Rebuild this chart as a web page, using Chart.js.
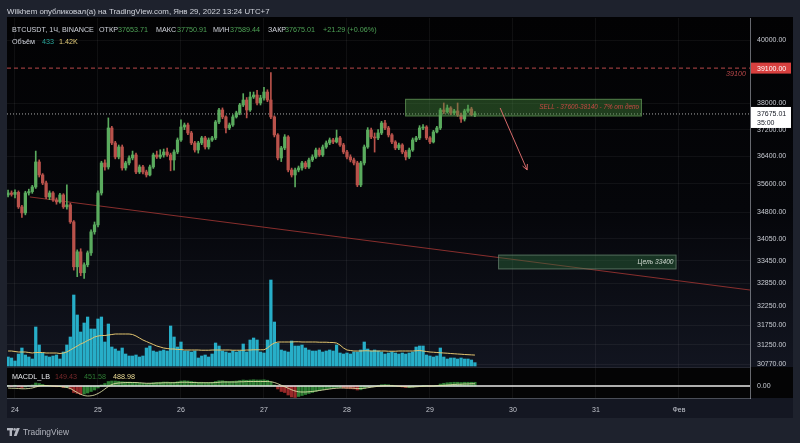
<!DOCTYPE html>
<html>
<head>
<meta charset="utf-8">
<script src="https://cdn.jsdelivr.net/npm/chart.js@4/dist/chart.umd.min.js"></script>
<style>
  html, body { margin: 0; padding: 0; background: #1e222d; }
  canvas { display: block; }
</style>
</head>
<body>
<canvas id="c" width="800" height="443"></canvas>
<script>
// BTCUSDT 1h candles, index 0 = Jan 23 22:00 (UTC+7)
const opens = [
  35284,35341,35300,35360,34945,34775,35341,35380,35513,36239,
  35860,35628,35227,35341,35143,35086,35284,34945,35001,34523,
  33290,33696,33130,33344,33668,34245,34440,35341,36210,36093,
  37250,36801,36386,36682,36064,36210,36357,36445,35947,36093,
  35947,35860,36093,36445,36386,36445,36533,36445,36298,36533,
  36890,37280,37341,37100,36801,36592,36801,36951,36682,36890,
  36951,37432,37797,37585,37250,37341,37585,37706,37950,38103,
  37797,38196,38258,38011,38165,38350,38103,37585,37041,36357,
  36652,36980,36005,35860,36005,36064,36210,36093,36298,36386,
  36592,36445,36682,36801,36890,36831,36951,36741,36533,36386,
  36298,36210,35571,36210,36682,37189,36980,36951,37100,37400,
  37250,37041,36831,36652,36741,36533,36386,36592,36890,36951,
  37250,37280,36951,36831,37130,37250,37797,37736,37858,37706,
  37767,37645,37520,37767,37827,37653.71
];
const highs = [
  35420,35400,35430,35400,34990,35390,35450,35560,36560,36300,
  35900,35680,35400,35380,35200,35330,35320,35571,35050,34560,
  33750,33780,33400,33720,34300,34520,35400,36260,36300,37555,
  37300,36850,36740,36740,36260,36420,36560,36500,36150,36140,
  36000,36150,36500,36560,36600,36620,36650,36500,36600,36950,
  37500,37400,37400,37150,36850,36850,37000,37000,36950,37000,
  37480,37850,37860,37620,37400,37650,37760,38000,38300,38180,
  38350,38350,38400,38250,38500,38420,38960,37620,37080,36700,
  37050,37020,36060,36060,36120,36260,36260,36350,36450,36650,
  36650,36740,36860,36950,36940,37189,37000,36790,36580,36450,
  36350,36260,36260,36740,37260,37250,37100,37200,37450,37480,
  37300,37080,36870,36800,36780,36580,36650,36950,37000,37320,
  37350,37320,36990,37180,37300,37850,38011,37950,37900,37820,
  38011,37700,37820,37950,37880,37750.91
];
const lows = [
  35230,35250,35200,34900,34650,34720,35280,35330,35470,35800,
  35580,35180,35150,35100,35020,35050,34900,34880,34480,33200,
  33024,33050,32980,33290,33600,34180,34380,35280,36000,36030,
  36750,36330,36330,36000,36000,36150,36300,35900,35900,35890,
  35800,35830,36050,36340,36340,36380,36400,35980,36000,36480,
  36850,37200,37050,36750,36530,36500,36750,36620,36620,36850,
  36900,37380,37530,37100,37200,37300,37550,37650,37900,37555,
  37750,38150,37950,37950,38100,38050,37530,36980,36300,36250,
  36600,35950,35800,35513,35950,36000,36040,36050,36250,36340,
  36400,36400,36640,36750,36780,36800,36700,36480,36330,36240,
  36150,35520,35520,36150,36640,36930,36530,36900,37050,37200,
  36980,36780,36600,36600,36480,36298,36340,36550,36840,36900,
  37200,36900,36780,36800,37100,37200,37680,37700,37650,37650,
  37600,37420,37460,37720,37620,37589.44
];
const closes = [
  35341,35300,35360,34945,34775,35341,35380,35513,36239,35860,
  35628,35227,35341,35143,35086,35284,34945,35001,34523,33290,
  33696,33130,33344,33668,34245,34440,35341,36210,36093,37250,
  36801,36386,36682,36064,36210,36357,36445,35947,36093,35947,
  35860,36093,36445,36386,36445,36533,36445,36298,36533,36890,
  37280,37341,37100,36801,36592,36801,36951,36682,36890,36951,
  37432,37797,37585,37250,37341,37585,37706,37950,38103,37797,
  38196,38258,38011,38165,38350,38103,37585,37041,36357,36652,
  36980,36005,35860,36005,36064,36210,36093,36298,36386,36592,
  36445,36682,36801,36890,36831,36951,36741,36533,36386,36298,
  36210,35571,36210,36682,37189,36980,36951,37100,37400,37250,
  37041,36831,36652,36741,36533,36386,36592,36890,36951,37250,
  37280,36951,36831,37130,37250,37797,37736,37858,37706,37767,
  37645,37520,37767,37827,37653.72,37675.01
];
const volumes = [
  1170,1040,650,1560,2340,1430,1170,910,5070,2730,
  1690,1300,1170,1300,1430,910,1820,2730,3770,9230,
  6630,4420,5590,6370,4810,4810,6110,6370,3120,5460,
  2470,2210,1950,2340,1560,1300,1300,1430,1170,1300,
  2340,2600,1950,1820,1950,2080,1950,5200,3770,2470,
  3120,1950,1950,1820,1950,1040,1300,1430,1170,1560,
  2990,2600,1950,1820,1690,1950,1820,1950,2860,1820,
  3380,3640,3380,1820,1690,3380,11180,5720,2990,2080,
  1950,1820,3250,2600,2600,2730,2340,2080,1950,1950,
  2080,1820,1950,2080,1950,2730,1690,1560,1690,1560,
  1820,1820,2080,3120,2210,1950,2080,1950,1820,1560,
  1690,1820,1690,1560,1690,1560,1690,1820,2470,2600,
  2600,1430,1300,1170,1300,2340,1170,910,1040,1040,
  910,1040,910,910,780,433
];
const volumeMA = [
  1950,1950,1885,1820,1820,1820,1755,1690,1755,1755,
  1755,1690,1690,1690,1690,1625,1690,1820,2080,2340,
  2600,2860,3055,3315,3510,3770,3900,3965,3965,4030,
  4095,4160,4160,4160,4160,4160,4095,3900,3640,3380,
  3185,2990,2795,2600,2470,2340,2275,2210,2210,2145,
  2145,2080,2080,2080,2080,2080,2050,2050,2050,2080,
  2080,2080,2080,2080,2080,2050,2050,2050,2050,2080,
  2080,2110,2110,2110,2110,2340,2730,2990,3120,3120,
  3120,3120,3120,3150,3150,3120,3120,3120,3120,3120,
  3090,3090,3090,3060,3055,2990,2730,2340,2080,2015,
  1950,1950,1950,1980,1980,1950,1950,1950,1950,1950,
  1920,1920,1920,1950,1950,1950,1950,1950,1980,2015,
  1950,1885,1820,1790,1755,1720,1690,1660,1625,1590,
  1560,1530,1495,1470,1445,1420
];
const macdHist = [
  20,-20,30,-40,-80,-40,20,40,120,100,
  60,20,0,-20,-30,-20,-60,-60,-120,-260,
  -300,-340,-320,-280,-220,-160,-80,40,100,180,
  200,200,190,170,160,160,150,130,120,110,
  100,110,130,140,150,160,160,150,150,170,
  200,210,200,180,160,150,150,140,140,150,
  180,210,210,190,180,190,200,220,240,230,
  240,250,240,240,250,230,160,40,-120,-220,
  -260,-360,-440,-460,-420,-380,-340,-300,-260,-220,
  -180,-150,-120,-100,-80,-60,-60,-80,-100,-110,
  -120,-160,-150,-100,-40,-20,0,20,50,60,
  50,30,0,-20,-40,-60,-60,-40,-20,0,
  20,10,-10,0,20,80,110,130,140,150,
  150,140,150,150,150,149.43
];
const macdLine = [
  -80,-90,-90,-100,-110,-110,-100,-80,
  -40,0,20,20,10,0,-10,-20,-40,
  -60,-100,-180,-260,-330,-380,-400,-390,-360,-300,-220,-120,-20,60,
  100,120,130,140,140,140,140,130,120,110,
  110,110,120,120,130,130,130,130,140,150,
  150,150,140,140,130,130,130,130,130,140,
  150,160,160,160,160,160,170,170,180,180,
  180,180,180,180,180,
  170,140,90,30,-30,-90,-150,-200,-230,-240,-240,-230,-220,-200,-180,
  -160,-140,-120,-100,-90,-80,-80,-80,-80,-90,-100,-100,-90,-70,
  -50,-30,-10,0,10,10,10,0,-10,-20,-30,-40,-40,-30,-20,-10,
  0,0,0,10,20,30,40,50,60,70,70,80,80,90,90
];

// axis labels
const dayIdx = [2, 26, 50, 74, 98, 122, 146, 170, 194];
const dayLabels = ['24', '25', '26', '27', '28', '29', '30', '31', 'Фев'];
const priceTicks = [40000, 38000, 37200, 36400, 35600, 34800, 34050, 33450, 32850, 32250, 31750, 31250, 30770];

// drawings on the chart
const resistance = 39100;
const lastPrice = 37675.01;
const trendX = [6.3, 214.55];
const trendY = [35227, 32670];
const sellX = [114.8, 183.3];
const sellPrice = [37600, 38140];
const targetX = [141.7, 193.3];
const targetPrice = [33220, 33620];
const arrowX = [142.3, 150.1];
const arrowY = [37858, 36005];

const UP = '#5aab5e', DOWN = '#b9524b';
const FONT = '"Liberation Sans", Arial, sans-serif';
const xMin = -0.31, xMax = 214.55;

const isUp = closes.map((c, i) => c >= opens[i]);
const histColors = macdHist.map((v, i) => (v < 0 && i > 0 && v < macdHist[i - 1]) ? '#9a2a2a' : '#2f7f35');

function fitSize(c, s, w, style) {
  c.font = (style || '') + ' 10px ' + FONT;
  return 10 * w / c.measureText(s).width;
}
function put(c, s, x, y, color, size, style, align) {
  c.font = (style || '') + ' ' + size + 'px ' + FONT;
  c.fillStyle = color;
  c.textAlign = align || 'left';
  c.textBaseline = 'middle';
  c.fillText(s, x, y);
}

const backdrop = {
  id: 'backdrop',
  beforeDraw(chart) {
    const c = chart.ctx, a = chart.chartArea;
    c.save();
    c.fillStyle = '#1e222d';
    c.fillRect(0, 0, 800, 443);
    // main pane (incl. price scale column)
    const g = c.createLinearGradient(0, a.top, 0, 367);
    g.addColorStop(0, '#020203');
    g.addColorStop(0.55, '#05060a');
    g.addColorStop(1, '#121520');
    c.fillStyle = g;
    c.fillRect(7, 17, 786, 367 - 17);
    // indicator pane
    c.fillStyle = '#040405';
    c.fillRect(7, 367, 786, a.bottom - 367);
    // time scale strip
    c.fillStyle = '#141722';
    c.fillRect(7, a.bottom, 786, 20);
    c.restore();
  }
};

const overlay = {
  id: 'overlay',
  afterDatasetsDraw(chart) {
    const c = chart.ctx, x = chart.scales.x, y = chart.scales.y;
    c.save();
    // sell zone
    let x0 = x.getPixelForValue(sellX[0]), x1 = x.getPixelForValue(sellX[1]);
    let y0 = y.getPixelForValue(sellPrice[1]), y1 = y.getPixelForValue(sellPrice[0]);
    c.fillStyle = 'rgba(72,140,62,0.42)';
    c.fillRect(x0, y0, x1 - x0, y1 - y0);
    c.strokeStyle = 'rgba(120,175,105,0.55)';
    c.lineWidth = 1;
    c.strokeRect(x0 + 0.5, y0 + 0.5, x1 - x0 - 1, y1 - y0 - 1);
    c.font = 'italic ' + fitSize(c, 'SELL - 37600-38140 - 7% от депо', 100, 'italic').toFixed(2) + 'px ' + FONT;
    put(c, 'SELL - 37600-38140 - 7% от депо', x1 - 3, (y0 + y1) / 2, '#c84a44', fitSize(c, 'SELL - 37600-38140 - 7% от депо', 100, 'italic'), 'italic', 'right');
    // target zone
    x0 = x.getPixelForValue(targetX[0]); x1 = x.getPixelForValue(targetX[1]);
    y0 = y.getPixelForValue(targetPrice[1]); y1 = y.getPixelForValue(targetPrice[0]);
    c.fillStyle = 'rgba(45,105,60,0.45)';
    c.fillRect(x0, y0, x1 - x0, y1 - y0);
    c.strokeStyle = 'rgba(130,150,135,0.55)';
    c.strokeRect(x0 + 0.5, y0 + 0.5, x1 - x0 - 1, y1 - y0 - 1);
    put(c, 'Цель 33400', x1 - 3, (y0 + y1) / 2, '#d2dbd2', fitSize(c, 'Цель 33400', 36, 'italic'), 'italic', 'right');
    // arrow
    const ax0 = x.getPixelForValue(arrowX[0]), ay0 = y.getPixelForValue(arrowY[0]);
    const ax1 = x.getPixelForValue(arrowX[1]), ay1 = y.getPixelForValue(arrowY[1]);
    c.strokeStyle = '#d66a6a';
    c.lineWidth = 1;
    c.beginPath();
    c.moveTo(ax0, ay0); c.lineTo(ax1, ay1);
    const ang = Math.atan2(ay1 - ay0, ax1 - ax0);
    for (const d of [-0.45, 0.45]) {
      c.moveTo(ax1, ay1);
      c.lineTo(ax1 - 6 * Math.cos(ang + d), ay1 - 6 * Math.sin(ang + d));
    }
    c.stroke();
    // resistance label
    put(c, '39100', 746, y.getPixelForValue(resistance) + 6, '#b8484a', fitSize(c, '39100', 20, 'italic'), 'italic', 'right');
    c.restore();
  },
  afterDraw(chart) {
    const c = chart.ctx, y = chart.scales.y, a = chart.chartArea;
    const ym = chart.scales.yMacd;
    c.save();
    // pane separator
    c.fillStyle = 'rgba(60,64,78,0.6)';
    c.fillRect(7, 367, 743, 1);
    // price tags
    let py = y.getPixelForValue(resistance);
    c.fillStyle = '#d8403f';
    c.fillRect(751, py - 5.5, 40, 11);
    put(c, '39100.00', 757, py + 0.5, '#ffffff', 7, '', 'left');
    py = y.getPixelForValue(lastPrice);
    c.fillStyle = '#ffffff';
    c.fillRect(751, py - 7, 40, 21);
    put(c, '37675.01', 757, py, '#131722', 7, '', 'left');
    put(c, '35:00', 757, py + 9, '#131722', 7, '', 'left');
    // indicator scale zero
    put(c, '0.00', 757, ym.getPixelForValue(0), '#c9ccd3', 7, '', 'left');

    // header
    put(c, 'Wilkhem опубликовал(а) на TradingView.com, Янв 29, 2022 13:24 UTC+7', 7, 11.5, '#d1d4dc',
        fitSize(c, 'Wilkhem опубликовал(а) на TradingView.com, Янв 29, 2022 13:24 UTC+7', 263), '', 'left');
    const ls = fitSize(c, 'BTCUSDT, 1Ч, BINANCE', 82);
    const LBL = '#d1d4dc', VAL = '#4fa357';
    put(c, 'BTCUSDT, 1Ч, BINANCE', 12, 30, LBL, ls);
    put(c, 'ОТКР', 99, 30, LBL, ls);
    put(c, '37653.71', 118, 30, VAL, ls);
    put(c, 'МАКС', 156, 30, LBL, ls);
    put(c, '37750.91', 177, 30, VAL, ls);
    put(c, 'МИН', 213, 30, LBL, ls);
    put(c, '37589.44', 230, 30, VAL, ls);
    put(c, 'ЗАКР', 268, 30, LBL, ls);
    put(c, '37675.01', 285, 30, VAL, ls);
    put(c, '+21.29 (+0.06%)', 323, 30, VAL, ls);
    put(c, 'Объём', 12, 42, LBL, ls);
    put(c, '433', 42, 42, '#2aa79c', ls);
    put(c, '1.42K', 59, 42, '#e6cf7c', ls);

    // indicator legend
    put(c, 'MACDL_LB', 12, 377, '#e6e7ea', ls);
    put(c, '149.43', 55, 377, '#7a2a2c', ls);
    put(c, '451.58', 84, 377, '#2f7d35', ls);
    put(c, '488.98', 113, 377, '#ecdc96', ls);

    // footer logo
    c.fillStyle = '#b2b5be';
    c.fillRect(7, 428, 6, 2.4);
    c.fillRect(9.6, 428, 2.4, 8);
    c.beginPath(); c.arc(14.6, 429.4, 1.3, 0, Math.PI * 2); c.fill();
    c.beginPath(); c.moveTo(16.6, 428); c.lineTo(19.8, 428); c.lineTo(16.6, 436); c.lineTo(13.8, 436); c.closePath(); c.fill();
    put(c, 'TradingView', 23, 432.5, '#b2b5be', fitSize(c, 'TradingView', 46));
    c.restore();
  }
};

new Chart(document.getElementById('c'), {
  type: 'bar',
  data: {
    datasets: [
      { type: 'bar', label: 'body', yAxisID: 'y', order: 1, grouped: false,
        data: closes.map((v, i) => ({ x: i, y: [opens[i], v] })),
        backgroundColor: isUp.map(u => u ? UP : DOWN), barThickness: 2.6, minBarLength: 1 },
      { type: 'bar', label: 'wick', yAxisID: 'y', order: 2, grouped: false,
        data: highs.map((v, i) => ({ x: i, y: [lows[i], v] })),
        backgroundColor: isUp.map(u => u ? UP : DOWN), barThickness: 1 },
      { type: 'line', label: 'resistance', yAxisID: 'y', order: 3,
        data: [{ x: xMin, y: resistance }, { x: xMax, y: resistance }],
        borderColor: '#b9484a', borderWidth: 1, borderDash: [4, 3], pointRadius: 0 },
      { type: 'line', label: 'last', yAxisID: 'y', order: 3,
        data: [{ x: xMin, y: lastPrice }, { x: xMax, y: lastPrice }],
        borderColor: 'rgba(225,225,225,0.75)', borderWidth: 1, borderDash: [1, 2], pointRadius: 0 },
      { type: 'line', label: 'MACD', yAxisID: 'yMacd', order: 5,
        data: macdLine.map((v, i) => ({ x: i, y: v })),
        borderColor: 'rgba(226,228,170,0.85)', borderWidth: 1, pointRadius: 0, tension: 0.3 },
      { type: 'line', label: 'zero', yAxisID: 'yMacd', order: 6,
        data: [{ x: xMin, y: 0 }, { x: xMax, y: 0 }],
        borderColor: '#e9e9e9', borderWidth: 1.5, pointRadius: 0 },
      { type: 'bar', label: 'hist', yAxisID: 'yMacd', order: 7, grouped: false,
        data: macdHist.map((v, i) => ({ x: i, y: v })),
        backgroundColor: histColors, barThickness: 2.6 },
      { type: 'line', label: 'trend', yAxisID: 'y', order: 8,
        data: trendX.map((v, i) => ({ x: v, y: trendY[i] })),
        borderColor: 'rgba(150,50,48,0.9)', borderWidth: 1, pointRadius: 0 },
      { type: 'line', label: 'volume MA', yAxisID: 'yVol', order: 9,
        data: volumeMA.map((v, i) => ({ x: i, y: v })),
        borderColor: '#e2c46f', borderWidth: 1, pointRadius: 0 },
      { type: 'bar', label: 'volume', yAxisID: 'yVol', order: 10, grouped: false,
        data: volumes.map((v, i) => ({ x: i, y: v })),
        backgroundColor: '#27aec8', barThickness: 2.6 }
    ]
  },
  options: {
    responsive: false,
    animation: false,
    devicePixelRatio: 1,
    layout: { padding: { left: 7, top: 18, right: 7, bottom: 25 } },
    plugins: { legend: { display: false }, tooltip: { enabled: false } },
    scales: {
      x: {
        type: 'linear', min: xMin, max: xMax, position: 'bottom', offset: false,
        afterBuildTicks: s => { s.ticks = dayIdx.map(v => ({ value: v })); },
        afterFit: s => { s.height = 20; },
        ticks: { callback: v => dayLabels[dayIdx.indexOf(v)], color: '#c3c6ce',
                 font: { family: FONT, size: 7 }, padding: 8, maxRotation: 0, autoSkip: false },
        grid: { color: 'rgba(255,255,255,0.055)', drawTicks: false, offset: false },
        border: { color: 'rgba(200,203,212,0.3)' }
      },
      y: {
        type: 'logarithmic', position: 'right', min: 29935, max: 40719,
        afterBuildTicks: s => { s.ticks = priceTicks.map(v => ({ value: v })); },
        afterFit: s => { s.width = 43; },
        ticks: { callback: v => Number(v).toFixed(2), color: '#c9ccd3',
                 font: { family: FONT, size: 7 }, padding: 7, autoSkip: false },
        grid: { color: 'rgba(255,255,255,0.05)', drawTicks: false },
        border: { color: 'rgba(170,173,182,0.6)' }
      },
      yVol: { type: 'linear', display: false, min: -4160, max: 45240 },
      yMacd: { type: 'linear', display: false, min: -480, max: 14720 }
    }
  },
  plugins: [backdrop, overlay]
});
</script>
</body>
</html>
